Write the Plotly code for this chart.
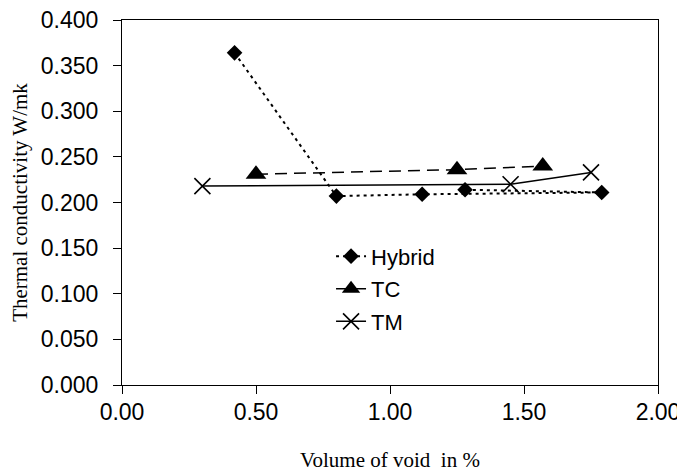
import plotly.graph_objects as go

# Data (Hybrid kept in its plotted order)
hybrid_x = [0.42, 0.80, 1.12, 1.79, 1.28]
hybrid_y = [0.364, 0.207, 0.209, 0.211, 0.214]
tc_x = [0.50, 1.25, 1.57]
tc_y = [0.231, 0.236, 0.240]
tm_x = [0.30, 1.45, 1.75]
tm_y = [0.218, 0.220, 0.233]

x_ticks = [0.0, 0.5, 1.0, 1.5, 2.0]
y_ticks = [0.0, 0.05, 0.10, 0.15, 0.20, 0.25, 0.30, 0.35, 0.40]

fig = go.Figure()
fig.add_trace(go.Scatter(
    x=hybrid_x, y=hybrid_y, name="Hybrid", mode="lines+markers",
    line=dict(color="black", width=2, dash="3px,4px"),
    marker=dict(symbol="diamond", size=12, color="black"),
    legendgroup="a"))
fig.add_trace(go.Scatter(
    x=tc_x, y=tc_y, name="TC", mode="lines+markers",
    line=dict(color="black", width=1.5, dash="12px,7px"),
    marker=dict(symbol="triangle-up", size=18, color="black"),
    legendgroup="b"))
fig.add_trace(go.Scatter(
    x=tm_x, y=tm_y, name="TM", mode="lines+markers",
    line=dict(color="black", width=1.5),
    marker=dict(symbol="x-thin-open", size=16, color="black",
                line=dict(color="black", width=1.6)),
    legendgroup="c"))

axis_common = dict(
    showgrid=False, zeroline=False, showline=True, linecolor="black",
    linewidth=1, mirror=True, ticks="outside", ticklen=8, tickcolor="black",
    automargin=False, ticklabeloverflow="allow",
    tickfont=dict(family="Liberation Sans, Arial", size=23, color="black"),
)

# page body has an 8px default margin, so the figure is sized to fit the window
fig.update_layout(
    width=677, height=468,
    margin=dict(l=114, r=27, t=12, b=91),
    paper_bgcolor="white", plot_bgcolor="white",
    showlegend=True,
    legend=dict(x=0.39, y=0.41, xanchor="left", yanchor="top",
                bgcolor="rgba(0,0,0,0)",
                font=dict(family="Liberation Sans, Arial", size=22, color="black"),
                tracegroupgap=1),
    xaxis=dict(range=[0, 2], tickvals=x_ticks, tickformat=".2f",
               ticklabelstandoff=-2,
               title=dict(text="Volume of void  in %", standoff=28,
                          font=dict(family="Liberation Serif, Times New Roman", size=21, color="black")),
               **axis_common),
    yaxis=dict(range=[0, 0.4], tickvals=y_ticks, tickformat=".3f",
               ticklabelstandoff=10,
               title=dict(text="Thermal conductivity W/mk", standoff=8,
                          font=dict(family="Liberation Serif, Times New Roman", size=21, color="black")),
               **axis_common),
)

fig.write_html("out.html")
